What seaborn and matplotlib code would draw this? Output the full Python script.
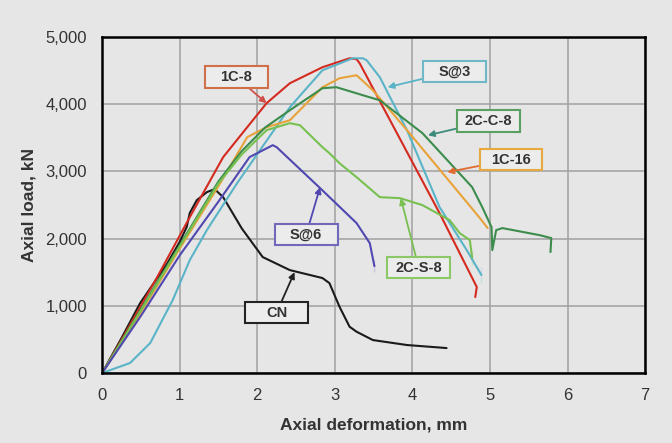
import numpy as np
import pandas as pd
import seaborn as sns
import matplotlib.pyplot as plt
from matplotlib.patches import Rectangle
from matplotlib.ticker import FuncFormatter

## Load-deformation curves (mm, kN)

cn_x = [0, 0.25, 0.49, 0.84, 1.0, 1.09, 1.13, 1.22, 1.35, 1.45, 1.56, 1.8, 2.07, 2.42, 2.84, 2.93, 3.06, 3.19, 3.28, 3.49, 3.93, 4.44]
cn_y = [0, 520, 1040, 1630, 1950, 2170, 2380, 2570, 2690, 2734, 2615, 2150, 1724, 1530, 1412, 1337, 985, 688, 614, 490, 416, 371]

c1c8_x = [0, 0.27, 0.71, 1.13, 1.56, 1.87, 2.12, 2.42, 2.84, 3.19, 3.28, 3.32, 4.35, 4.83, 4.81]
c1c8_y = [0, 535, 1426, 2318, 3210, 3655, 4012, 4309, 4547, 4680, 4666, 4606, 2377, 1278, 1129]

s3_x = [0, 0.36, 0.62, 0.91, 1.13, 1.35, 1.74, 2.42, 2.84, 3.23, 3.36, 3.41, 3.58, 3.93, 4.35, 4.70, 4.89, 4.89]
s3_y = [0, 149, 446, 1085, 1679, 2125, 2823, 3952, 4502, 4680, 4680, 4651, 4398, 3611, 2467, 1828, 1575, 1337]

c1c16_x = [0, 0.5, 1.0, 1.5, 1.87, 2.12, 2.42, 2.84, 3.06, 3.28, 3.49, 3.93, 4.86, 4.97]
c1c16_y = [0, 900, 1850, 2780, 3507, 3655, 3759, 4250, 4383, 4428, 4205, 3611, 2318, 2155]

c2cc8_x = [0, 0.5, 1.0, 1.5, 1.8, 2.1, 2.42, 2.84, 3.02, 3.49, 3.58, 4.13, 4.77, 4.90, 5.02, 5.03, 5.08, 5.16, 5.64, 5.79, 5.78]
c2cc8_y = [0, 950, 1900, 2850, 3300, 3650, 3908, 4235, 4250, 4086, 4056, 3566, 2764, 2467, 2169, 1828, 2125, 2155, 2050, 2006, 1798]

c2cs8_x = [0, 0.5, 1.0, 1.5, 1.8, 2.12, 2.42, 2.55, 2.84, 2.93, 3.06, 3.28, 3.58, 3.84, 4.13, 4.48, 4.61, 4.74, 4.77, 4.77]
c2cs8_y = [0, 930, 1880, 2820, 3250, 3611, 3715, 3685, 3358, 3269, 3120, 2912, 2615, 2600, 2496, 2273, 2080, 1976, 1828, 1605]

s6_x = [0, 0.5, 1.0, 1.5, 1.9, 2.20, 2.25, 2.81, 3.28, 3.45, 3.51, 3.51]
s6_y = [0, 850, 1750, 2550, 3210, 3388, 3358, 2749, 2229, 1932, 1679, 1500]

curves = {
    "CN": (cn_x, cn_y, "#1a1a1a"),
    "1C-8": (c1c8_x, c1c8_y, "#d42a20"),
    "S@3": (s3_x, s3_y, "#5ab4c8"),
    "1C-16": (c1c16_x, c1c16_y, "#e8a23a"),
    "2C-C-8": (c2cc8_x, c2cc8_y, "#3c8c4c"),
    "2C-S-8": (c2cs8_x, c2cs8_y, "#78c050"),
    "S@6": (s6_x, s6_y, "#5048b0"),
}

# label: (box centre, arrow tip, box edge colour, arrow colour)
labels = {
    "1C-8": ((1.73, 4398), (2.12, 4012), "#d0704a", "#d0504a"),
    "S@3": ((4.54, 4487), (3.68, 4250), "#70b8c8", "#5ab4c8"),
    "2C-C-8": ((4.98, 3744), (4.20, 3536), "#5aa060", "#3c8c7c"),
    "1C-16": ((5.27, 3172), (4.45, 2987), "#e8a840", "#e06a30"),
    "S@6": ((2.63, 2058), (2.81, 2764), "#7068b8", "#5048b0"),
    "CN": ((2.25, 899), (2.48, 1500), "#222222", "#222222"),
    "2C-S-8": ((4.08, 1568), (3.85, 2600), "#8cc868", "#78c050"),
}
box_w = 0.81
box_h = 320

bg = "#e6e6e6"
sns.set_style("white")
plt.rcParams["font.family"] = ["Liberation Sans", "DejaVu Sans"]

fig = plt.figure(figsize = (6.72, 4.43), dpi = 100, facecolor = bg)
ax = fig.add_axes([0.152, 0.158, 0.808, 0.759])
ax.set_facecolor(bg)

for name, (xs, ys, col) in curves.items():
    sns.lineplot(x = xs, y = ys, sort = False, color = col, linewidth = 1.5, ax = ax)

# boxed labels; the arrow starts at the box centre and the box hides its first part
for name, (box, tip, ec, ac) in labels.items():
    ax.annotate("", xy = tip, xytext = box, zorder = 4,
                arrowprops = dict(arrowstyle = "-|>", color = ac, lw = 1.3, mutation_scale = 9,
                                  shrinkA = 0, shrinkB = 0))
    ax.add_patch(Rectangle((box[0] - box_w / 2, box[1] - box_h / 2), box_w, box_h,
                           fc = "#ececec", ec = ec, lw = 1.5, zorder = 5))
    ax.text(box[0], box[1], name, ha = "center", va = "center", zorder = 6,
            fontsize = 10.5, fontweight = "bold", color = "#333333")

ax.set_xlim(0, 7)
ax.set_ylim(0, 5000)
ax.set_xticks(range(0, 8))
ax.set_yticks(range(0, 5001, 1000))
ax.yaxis.set_major_formatter(FuncFormatter(lambda v, p: f"{int(v):,}"))
ax.grid(True, color = "#a0a0a0", linewidth = 1.1)
ax.set_axisbelow(True)
for s in ax.spines.values():
    s.set_color("black")
    s.set_linewidth(1.8)
ax.tick_params(axis = "both", direction = "out", length = 5, color = "#a0a0a0",
               labelsize = 12, labelcolor = "#333333", pad = 6)
ax.set_xlabel("Axial deformation, mm", fontsize = 12.5, fontweight = "bold", color = "#333333", labelpad = 10)
ax.set_ylabel("Axial load, kN", fontsize = 12.5, fontweight = "bold", color = "#333333", labelpad = 6)

fig.savefig("out.png", dpi = 100, facecolor = bg)
